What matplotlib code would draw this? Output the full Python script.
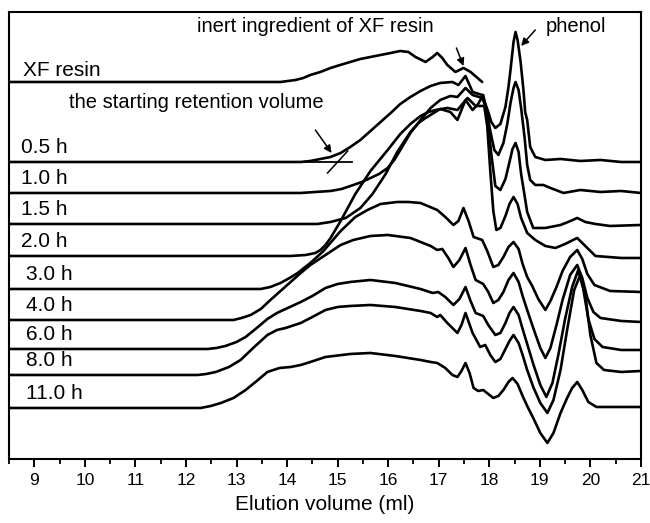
import matplotlib.pyplot as plt
from matplotlib.ticker import MultipleLocator

plt.rcParams['font.family'] = ['Liberation Sans', 'DejaVu Sans']

# GPC traces: elution volume (ml) and detector response above each trace's own baseline
xf_x = [8.5, 13.87, 14.02, 14.17, 14.32, 14.46, 14.66, 14.86, 15.05, 15.25, 15.45, 15.65,
        16.05, 16.24, 16.40, 16.54, 16.74, 16.88, 16.97, 17.07, 17.17, 17.33, 17.49, 17.63,
        17.86]
xf_h = [0, 0, 1, 2, 4, 7, 10, 14, 17, 20, 23, 25, 29, 31, 30, 25, 20, 25, 29, 24, 17, 10,
        14, 10, 0]

h05_x = [8.5, 14.27, 14.46, 14.66, 14.86, 15.06, 15.25, 15.45, 15.65, 15.85, 16.05, 16.24,
         16.44, 16.64, 16.84, 17.03, 17.27, 17.39, 17.53, 17.67, 17.86, 17.98, 18.04, 18.12,
         18.22, 18.32, 18.38, 18.42, 18.48, 18.52, 18.56, 18.62, 18.68, 18.71, 18.75, 18.81,
         18.91, 19.11, 19.41, 19.80, 20.20, 20.61, 21.0]
h05_h = [0, 0, 1, 3, 5, 9, 15, 22, 31, 40, 49, 58, 65, 71, 76, 79, 80, 77, 86, 70, 67, 50,
         40, 34, 38, 55, 75, 92, 120, 130, 122, 100, 70, 50, 42, 15, 5, 2, 3, 1, 2, 0, 0]

h10_x = [8.5, 14.27, 14.56, 14.86, 15.08, 15.31, 15.48, 15.65, 15.82, 15.99, 16.12, 16.24,
         16.44, 16.64, 16.84, 17.03, 17.23, 17.37, 17.53, 17.67, 17.86, 17.94, 18.02, 18.10,
         18.18, 18.28, 18.36, 18.42, 18.48, 18.52, 18.58, 18.63, 18.70, 18.75, 18.81, 18.91,
         19.07, 19.21, 19.47, 19.80, 20.20, 20.61, 21.0]
h10_h = [0, 0, 1, 2, 4, 8, 11, 15, 19, 25, 33, 43, 60, 73, 85, 93, 97, 96, 105, 98, 95, 85,
         62, 43, 38, 50, 70, 90, 105, 111, 103, 85, 55, 28, 13, 8, 8, 5, 0, 3, 1, 2, 0]

h15_x = [8.5, 14.60, 14.73, 14.86, 15.16, 15.45, 15.69, 15.95, 16.18, 16.44, 16.60, 16.74,
         16.90, 17.03, 17.23, 17.37, 17.53, 17.67, 17.78, 17.88, 17.96, 18.04, 18.12, 18.22,
         18.32, 18.40, 18.46, 18.52, 18.58, 18.63, 18.70, 18.75, 18.87, 19.11, 19.41, 19.56,
         19.74, 19.90, 20.10, 20.39, 21.0]
h15_h = [0, 0, 1, 2, 6, 16, 30, 50, 72, 92, 101, 106, 111, 115, 112, 104, 124, 114, 120,
         129, 110, 70, 38, 34, 45, 62, 75, 81, 72, 50, 28, 12, -4, -4, -1, 2, 6, 2, 0, -2, -1]

h20_x = [8.5, 14.07, 14.37, 14.56, 14.66, 14.76, 14.86, 15.06, 15.35, 15.65, 15.99, 16.24,
         16.44, 16.64, 16.80, 16.94, 17.17, 17.37, 17.57, 17.73, 17.90, 17.96, 18.02, 18.08,
         18.14, 18.22, 18.32, 18.40, 18.48, 18.56, 18.63, 18.75, 18.91, 19.11, 19.31, 19.50,
         19.74, 19.90, 20.10, 20.61, 21.0]
h20_h = [0, 0, 1, 3, 6, 11, 18, 35, 62, 85, 106, 122, 132, 140, 144, 146, 148, 146, 158,
         150, 150, 130, 85, 45, 26, 28, 40, 52, 59, 52, 38, 23, 16, 10, 8, 12, 18, 10, 0,
         -2, -2]

h30_x = [8.5, 13.48, 13.67, 13.87, 14.05, 14.21, 14.46, 14.72, 15.06, 15.35, 15.59, 15.85,
         16.18, 16.40, 16.64, 16.97, 17.13, 17.29, 17.39, 17.49, 17.59, 17.69, 17.86, 17.96,
         18.08, 18.18, 18.28, 18.38, 18.48, 18.58, 18.66, 18.75, 18.85, 18.97, 19.11, 19.21,
         19.33, 19.45, 19.60, 19.74, 19.84, 19.94, 20.08, 20.39, 21.0]
h30_h = [0, 0, 2, 6, 11, 16, 26, 38, 58, 72, 79, 85, 87, 87, 86, 79, 72, 64, 68, 81, 68,
         52, 49, 38, 22, 24, 32, 42, 47, 40, 25, 12, 3, -10, -21, -12, 2, 18, 32, 39, 30,
         15, 4, -2, -3]

h40_x = [8.5, 12.94, 13.10, 13.28, 13.48, 13.67, 13.87, 14.07, 14.27, 14.46, 14.76, 15.06,
         15.31, 15.65, 15.99, 16.44, 16.84, 16.97, 17.07, 17.19, 17.29, 17.41, 17.53, 17.63,
         17.73, 17.88, 17.98, 18.08, 18.18, 18.28, 18.38, 18.48, 18.58, 18.66, 18.75, 18.87,
         19.01, 19.11, 19.21, 19.33, 19.45, 19.60, 19.74, 19.84, 19.94, 20.06, 20.20, 20.61,
         21.0]
h40_h = [0, 0, 2, 5, 11, 20, 29, 38, 47, 55, 65, 75, 80, 84, 85, 82, 74, 70, 71, 62, 53,
         60, 72, 55, 40, 36, 28, 17, 20, 28, 40, 47, 38, 24, 10, -8, -28, -38, -28, -5, 20,
         45, 55, 42, 22, 8, 2, -1, -2]

h60_x = [8.5, 12.43, 12.60, 12.78, 13.00, 13.18, 13.40, 13.61, 13.80, 13.97, 14.27, 14.50,
         14.76, 15.00, 15.25, 15.65, 16.14, 16.64, 16.88, 16.99, 17.13, 17.29, 17.41, 17.53,
         17.63, 17.73, 17.88, 17.98, 18.12, 18.22, 18.32, 18.40, 18.48, 18.58, 18.66, 18.75,
         18.87, 19.01, 19.13, 19.25, 19.37, 19.50, 19.64, 19.76, 19.86, 19.96, 20.08, 20.24,
         20.61, 21.0]
h60_h = [0, 0, 1, 3, 7, 12, 21, 30, 36, 40, 47, 53, 61, 65, 67, 69, 66, 60, 56, 57, 52, 44,
         50, 62, 48, 36, 33, 24, 14, 16, 26, 36, 42, 34, 20, 5, -15, -36, -48, -34, -5, 30,
         62, 79, 60, 30, 10, 2, -1, -1]

h80_x = [8.5, 12.23, 12.40, 12.59, 12.85, 13.08, 13.35, 13.61, 13.80, 13.97, 14.27, 14.50,
         14.76, 15.00, 15.25, 15.65, 16.14, 16.64, 16.84, 16.97, 17.03, 17.17, 17.37, 17.45,
         17.53, 17.67, 17.82, 17.92, 18.02, 18.12, 18.22, 18.32, 18.40, 18.48, 18.58, 18.66,
         18.75, 18.87, 19.01, 19.15, 19.27, 19.41, 19.54, 19.68, 19.80, 19.90, 20.00, 20.12,
         20.27, 20.61, 21.0]
h80_h = [0, 0, 1, 3, 8, 15, 28, 40, 45, 47, 52, 58, 65, 68, 69, 70, 68, 64, 62, 58, 60, 52,
         42, 50, 62, 42, 28, 30, 20, 13, 16, 26, 34, 40, 32, 20, 5, -12, -28, -38, -25, 5,
         45, 85, 100, 80, 40, 12, 5, 3, 4]

h110_x = [8.5, 12.29, 12.49, 12.69, 12.94, 13.18, 13.40, 13.61, 13.85, 14.07, 14.27, 14.46,
          14.76, 15.25, 15.65, 16.14, 16.64, 16.84, 16.97, 17.13, 17.27, 17.37, 17.45, 17.53,
          17.61, 17.69, 17.78, 17.88, 17.98, 18.08, 18.18, 18.28, 18.38, 18.46, 18.56, 18.66,
          18.75, 18.87, 19.01, 19.15, 19.27, 19.41, 19.54, 19.64, 19.74, 19.84, 19.96, 20.12,
          20.61, 21.0]
h110_h = [0, 0, 2, 5, 10, 18, 27, 36, 40, 41, 43, 46, 51, 54, 55, 52, 48, 46, 45, 40, 33,
          31, 37, 45, 35, 20, 17, 18, 14, 10, 12, 18, 26, 30, 24, 12, 2, -10, -25, -35, -25,
          -5, 10, 20, 26, 18, 6, 1, 1, 1]

labels = ['XF resin', '0.5 h', '1.0 h', '1.5 h', '2.0 h', '3.0 h', '4.0 h', '6.0 h', '8.0 h', '11.0 h']
traces = [(xf_x, xf_h), (h05_x, h05_h), (h10_x, h10_h), (h15_x, h15_h), (h20_x, h20_h),
          (h30_x, h30_h), (h40_x, h40_h), (h60_x, h60_h), (h80_x, h80_h), (h110_x, h110_h)]
# vertical stacking of the traces
offsets = [377, 297, 266, 235, 203, 170, 139, 110, 84, 51]
label_x = [8.77, 8.74, 8.74, 8.74, 8.74, 8.83, 8.83, 8.83, 8.83, 8.83]

fig = plt.figure(figsize=(6.5, 5.23), dpi=100)
ax = fig.add_axes([0.014, 0.1224, 0.972, 0.8547])

for (x, h), off in zip(traces, offsets):
    ax.plot(x, [v + off for v in h], color='black', lw=1.9,
            solid_joinstyle='round', solid_capstyle='round')

for i, (lab, off) in enumerate(zip(labels, offsets)):
    dy = 6 if i == 0 else 9
    ax.text(label_x[i], off + dy, lab, fontsize=15, va='baseline', ha='left')

# annotations
ax.text(9.68, 351, 'the starting retention volume', fontsize=14.5, va='baseline')
ax.text(12.21, 427, 'inert ingredient of XF resin', fontsize=14.5, va='baseline')
ax.text(19.11, 427, 'phenol', fontsize=14.5, va='baseline')

arrow = dict(arrowstyle='-|>', color='black', lw=1.1, mutation_scale=11, shrinkA=0, shrinkB=0)
ax.annotate('', xy=(17.49, 393), xytext=(17.35, 411), arrowprops=arrow)
ax.annotate('', xy=(18.63, 413), xytext=(18.91, 429), arrowprops=arrow)
ax.annotate('', xy=(14.88, 306), xytext=(14.56, 329), arrowprops=arrow)

# baseline extension and tangent marking the onset of the 0.5 h trace
ax.plot([14.27, 15.29], [297, 297], color='black', lw=1.3)
ax.plot([14.80, 15.20], [286, 308], color='black', lw=1.1)

ax.set_xlim(8.5, 21)
ax.set_ylim(0, 447)
ax.xaxis.set_major_locator(MultipleLocator(1))
ax.xaxis.set_minor_locator(MultipleLocator(0.5))
ax.tick_params(axis='x', which='major', direction='out', length=6, width=1.4,
               labelsize=12.5, pad=4)
ax.tick_params(axis='x', which='minor', direction='out', length=3.5, width=1.3)
ax.set_yticks([])
for s in ax.spines.values():
    s.set_linewidth(1.5)
ax.set_xlabel('Elution volume (ml)', fontsize=15, labelpad=5)

fig.savefig('out.png', dpi=100)
